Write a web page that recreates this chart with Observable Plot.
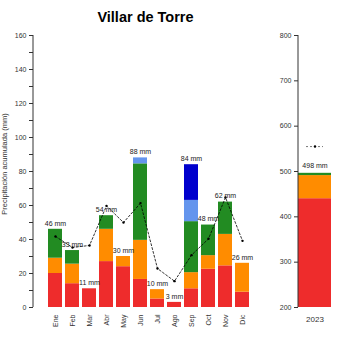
<!DOCTYPE html>
<html><head><meta charset="utf-8">
<script src="https://cdn.jsdelivr.net/npm/d3@7"></script>
<script src="https://cdn.jsdelivr.net/npm/@observablehq/plot@0.6"></script>
<style>
body{margin:0;background:#fff;}
#wrap{position:relative;width:350px;height:350px;overflow:hidden;font-family:"Liberation Sans",Arial,sans-serif;}
#title{position:absolute;left:0;top:9px;width:291px;text-align:center;font-weight:bold;font-size:14.5px;color:#000;}
#left{position:absolute;left:0;top:0;}
#right{position:absolute;left:262px;top:0;}
</style></head>
<body><div id="wrap"><div id="title">Villar de Torre</div><div id="left"></div><div id="right"></div></div>
<script>
const months = ["Ene","Feb","Mar","Abr","May","Jun","Jul","Ago","Sep","Oct","Nov","Dic"];
const cats = ["rojo","naranja","verde","azulClaro","azulOscuro"];
const catColors = ["#EE2C2C","#FF8C00","#228B22","#6495ED","#0000CD"];
const red       = [20,14,11,27,24,16.5,5,3,11,22.5,24.5,9];
const orange    = [9,11.5,0,19,6,23,5.5,0,9.5,8,18.5,17];
const green     = [17,8,0,8,0,45,0,0,30,18,19,0];
const lightBlue = [0,0,0,0,0,3.5,0,0,12.5,0,0,0];
const darkBlue  = [0,0,0,0,0,0,0,0,21,0,0,0];
const totalLabels = [46,33,11,54,30,88,10,3,84,48,62,26];
const meanLine = [41.8,35.3,36.5,59.8,50,61.4,22.9,15.5,30.8,40.4,64.7,39.2];
const yTicksLeft = d3.range(0,161,10);

const year = ["2023"];
const annualParts = [440,51,5];
const annualLabel = 498;
const annualMean = 555;
const yTicksRight = d3.range(200,801,100);

const series = [red,orange,green,lightBlue,darkBlue];
const rows = [];
months.forEach((m,i)=>cats.forEach((c,j)=>rows.push({month:m,cat:c,value:series[j][i]})));
const totals = months.map((m,i)=>({month:m,top:d3.sum(series,s=>s[i]),label:totalLabels[i]+" mm"}));
const means = months.map((m,i)=>({month:m,v:meanLine[i]}));

const leftChart = Plot.plot({
  width:266,height:350,marginTop:35,marginBottom:43,marginLeft:33,marginRight:2,
  style:{fontFamily:"'Liberation Sans',Arial,sans-serif",background:"transparent"},
  x:{type:"band",domain:months,range:[33,264],paddingInner:0.17,paddingOuter:0.56},
  y:{domain:[0,160]},
  color:{domain:cats,range:catColors},
  marks:[
    Plot.barY(rows,{x:"month",y:"value",fill:"cat",order:cats}),
    Plot.line(means,{x:"month",y:"v",stroke:"#000",strokeWidth:0.8,strokeDasharray:"2,2"}),
    Plot.dot(means,{x:"month",y:"v",r:1.2,fill:"#000"}),
    Plot.text(totals,{x:"month",y:"top",text:"label",dy:-6,fontSize:7,fill:"#222"}),
    Plot.axisY({ticks:yTicksLeft,tickFormat:d=>d%20===0?String(d):"",tickSize:4,tickPadding:3,fontSize:7,label:null,color:"#333"}),
    Plot.axisX({tickSize:0,tickPadding:7,tickRotate:-90,fontSize:7,label:null,color:"#333"})
  ]
});
document.getElementById("left").appendChild(leftChart);
{
  const ys = leftChart.scale("y");
  const svg = d3.select(leftChart);
  svg.append("line").attr("x1",33).attr("x2",33)
    .attr("y1",ys.apply(0)).attr("y2",ys.apply(160)).attr("stroke","#333").attr("stroke-width",1);
  svg.append("text").attr("transform","translate(7,164) rotate(-90)")
    .attr("text-anchor","middle").attr("font-size",7.5).attr("fill","#333")
    .attr("font-family","'Liberation Sans',Arial,sans-serif")
    .text("Precipitación acumulada (mm)");
}

const annualRows = cats.slice(0,3).map((c,j)=>({year:year[0],cat:c,value:annualParts[j]}));
const annualTop = [{year:year[0],top:d3.sum(annualParts),label:annualLabel+" mm",mean:annualMean}];
const rightChart = Plot.plot({
  width:88,height:350,marginTop:35,marginBottom:43,marginLeft:36,marginRight:2,
  style:{fontFamily:"'Liberation Sans',Arial,sans-serif",background:"transparent"},
  x:{type:"band",domain:year,range:[36,69],padding:0},
  y:{domain:[200,800]},
  color:{domain:cats,range:catColors},
  marks:[
    Plot.barY(annualRows,{x:"year",y:"value",fill:"cat",order:cats,clip:true}),
    Plot.tickY(annualTop,{x:"year",y:"mean",stroke:"#555",strokeWidth:0.8,strokeDasharray:"2,2",insetLeft:8,insetRight:8}),
    Plot.dot(annualTop,{x:"year",y:"mean",r:1.2,fill:"#000"}),
    Plot.text(annualTop,{x:"year",y:"top",text:"label",dy:-8,fontSize:7,fill:"#222"}),
    Plot.axisY({ticks:yTicksRight,tickSize:4,tickPadding:3,fontSize:7,label:null,color:"#333"}),
    Plot.axisX({tickSize:0,tickPadding:9,fontSize:8,label:null,color:"#333"})
  ]
});
document.getElementById("right").appendChild(rightChart);
{
  const ys = rightChart.scale("y");
  d3.select(rightChart).append("line").attr("x1",36).attr("x2",36)
    .attr("y1",ys.apply(200)).attr("y2",ys.apply(800)).attr("stroke","#333").attr("stroke-width",1);
}
</script></body></html>
